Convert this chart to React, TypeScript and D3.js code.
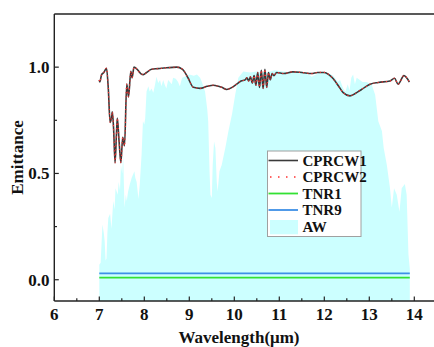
import React from "react";
import * as d3 from "d3";

// AW (atmospheric window) transmittance
const awWavelength = [7.0, 7.03, 7.07, 7.1, 7.12, 7.14, 7.16, 7.18, 7.2, 7.24, 7.27, 7.31, 7.34, 7.36, 7.41, 7.43, 7.46, 7.48, 7.51, 7.53, 7.56, 7.59, 7.61, 7.64, 7.68, 7.72, 7.76, 7.78, 7.8, 7.83, 7.87, 7.9, 7.94, 7.97, 8.0, 8.02, 8.05, 8.09, 8.12, 8.16, 8.2, 8.24, 8.27, 8.31, 8.35, 8.38, 8.42, 8.45, 8.49, 8.53, 8.57, 8.61, 8.64, 8.7, 8.75, 8.79, 8.84, 8.9, 9.0, 9.1, 9.17, 9.24, 9.28, 9.35, 9.4, 9.42, 9.45, 9.47, 9.5, 9.52, 9.55, 9.58, 9.61, 9.63, 9.67, 9.72, 9.8, 9.87, 9.95, 10.02, 10.09, 10.2, 10.35, 10.5, 10.7, 10.9, 11.1, 11.3, 11.5, 11.65, 11.72, 11.9, 12.1, 12.2, 12.3, 12.35, 12.42, 12.47, 12.52, 12.56, 12.6, 12.64, 12.68, 12.72, 12.79, 12.85, 12.94, 13.05, 13.13, 13.2, 13.28, 13.32, 13.39, 13.46, 13.5, 13.55, 13.61, 13.67, 13.72, 13.79, 13.83, 13.87, 13.9];
const awValue = [0.07, 0.08, 0.26, 0.22, 0.18, 0.09, 0.1, 0.22, 0.29, 0.31, 0.24, 0.37, 0.33, 0.43, 0.4, 0.46, 0.42, 0.54, 0.5, 0.59, 0.34, 0.4, 0.37, 0.415, 0.45, 0.48, 0.5, 0.51, 0.48, 0.46, 0.38, 0.45, 0.59, 0.745, 0.73, 0.76, 0.885, 0.91, 0.885, 0.9, 0.88, 0.92, 0.955, 0.925, 0.94, 0.91, 0.94, 0.92, 0.9, 0.94, 0.93, 0.92, 0.95, 0.945, 0.93, 0.91, 0.95, 0.955, 0.965, 0.96, 0.965, 0.95, 0.93, 0.885, 0.8, 0.745, 0.51, 0.4, 0.384, 0.54, 0.65, 0.62, 0.46, 0.415, 0.51, 0.54, 0.62, 0.7, 0.78, 0.87, 0.95, 0.98, 0.975, 0.98, 0.975, 0.985, 0.98, 0.975, 0.98, 0.965, 0.955, 0.975, 0.97, 0.96, 0.93, 0.94, 0.9, 0.885, 0.92, 0.89, 0.95, 0.965, 0.92, 0.95, 0.94, 0.93, 0.93, 0.92, 0.87, 0.745, 0.7, 0.62, 0.54, 0.43, 0.34, 0.43, 0.4, 0.32, 0.43, 0.45, 0.4, 0.12, 0.05];

// CPRCW1 / CPRCW2 emittance (they overlap)
const cprcwWavelength = [7.0, 7.01, 7.05, 7.1, 7.16, 7.2, 7.24, 7.27, 7.29, 7.32, 7.35, 7.38, 7.4, 7.44, 7.48, 7.52, 7.56, 7.61, 7.65, 7.7, 7.73, 7.77, 7.84, 7.92, 7.98, 8.05, 8.16, 8.3, 8.5, 8.72, 8.85, 8.97, 9.09, 9.24, 9.4, 9.53, 9.65, 9.72, 9.83, 9.95, 10.05, 10.15, 10.24, 10.28, 10.32, 10.36, 10.4, 10.44, 10.48, 10.52, 10.56, 10.6, 10.64, 10.68, 10.72, 10.76, 10.8, 10.84, 10.88, 10.94, 11.1, 11.3, 11.5, 11.72, 11.85, 12.0, 12.1, 12.2, 12.32, 12.42, 12.57, 12.68, 12.79, 12.9, 13.02, 13.2, 13.46, 13.56, 13.64, 13.77, 13.89];
const cprcw1Value = [0.94, 0.93, 0.964, 0.975, 0.995, 0.9, 0.74, 0.76, 0.79, 0.7, 0.55, 0.68, 0.76, 0.65, 0.55, 0.67, 0.63, 0.92, 0.86, 0.98, 0.95, 1.0, 0.99, 0.97, 0.965, 0.975, 0.99, 0.993, 0.997, 1.0, 0.99, 0.95, 0.905, 0.9, 0.91, 0.915, 0.91, 0.905, 0.895, 0.905, 0.92, 0.935, 0.94, 0.95, 0.935, 0.955, 0.925, 0.96, 0.915, 0.975, 0.905, 0.985, 0.9, 0.99, 0.905, 0.975, 0.94, 0.97, 0.96, 0.975, 0.97, 0.978, 0.975, 0.97, 0.975, 0.975, 0.965, 0.945, 0.91, 0.88, 0.865, 0.875, 0.89, 0.905, 0.92, 0.928, 0.935, 0.948, 0.92, 0.96, 0.93];
const cprcw2Value = cprcw1Value.slice();

// TNR1 / TNR9
const tnrWavelength = [7.0, 13.9];
const tnr1Value = [0.01, 0.01];
const tnr9Value = [0.03, 0.03];

const xMajorTicks = [6, 7, 8, 9, 10, 11, 12, 13, 14];
const xMinorTicks = [6.5, 7.5, 8.5, 9.5, 10.5, 11.5, 12.5, 13.5];
const yMajorTicks = [0, 0.5, 1.0];
const yMinorTicks = [0.25, 0.75];

const legendLabels = ["CPRCW1", "CPRCW2", "TNR1", "TNR9", "AW"];

const FONT = "'Liberation Serif', 'Times New Roman', serif";

export default function App() {
  const W = 434;
  const H = 347;
  const x = d3.scaleLinear().domain([6, 14.5]).range([54.3, 54.3 + 8.5 * 45]);
  const y = d3.scaleLinear().domain([-0.1, 1.25]).range([301, 14]);

  const awData = awWavelength.map((w, i) => [w, awValue[i]] as [number, number]);
  const area = d3
    .area<[number, number]>()
    .x((d) => x(d[0]))
    .y0(y(-0.1))
    .y1((d) => y(d[1]));

  const line = d3
    .line<[number, number]>()
    .x((d) => x(d[0]))
    .y((d) => y(d[1]))
    .curve(d3.curveMonotoneX);
  const straight = d3
    .line<[number, number]>()
    .x((d) => x(d[0]))
    .y((d) => y(d[1]));

  const c1 = cprcwWavelength.map((w, i) => [w, cprcw1Value[i]] as [number, number]);
  const c2 = cprcwWavelength.map((w, i) => [w, cprcw2Value[i]] as [number, number]);
  const t1 = tnrWavelength.map((w, i) => [w, tnr1Value[i]] as [number, number]);
  const t9 = tnrWavelength.map((w, i) => [w, tnr9Value[i]] as [number, number]);

  const left = x(6);
  const bottom = y(-0.1);
  const top = y(1.25);

  const legendX = 267.5;
  const legendY = 151;
  const rowY = [160.5, 177, 193.5, 210, 227];

  return (
    <svg width={W} height={H} style={{ position: "absolute", left: 0, top: 0, background: "#fff" }}>
      <rect x={0} y={0} width={W} height={H} fill="#fff" />
      <path d={area(awData) || ""} fill="#ccffff" stroke="none" />
      <path d={straight(t9) || ""} fill="none" stroke="#3d8fe6" strokeWidth={1.8} />
      <path d={straight(t1) || ""} fill="none" stroke="#33e133" strokeWidth={1.8} />
      <path d={line(c1) || ""} fill="none" stroke="#3a3a3a" strokeWidth={1.6} />
      <path d={line(c2) || ""} fill="none" stroke="#ff3030" strokeWidth={1.2} strokeDasharray="1.2 3" />

      {/* axes */}
      <line x1={left} x2={W} y1={top} y2={top} stroke="#222" strokeWidth={1.4} />
      <line x1={left} x2={left} y1={top} y2={bottom} stroke="#222" strokeWidth={1.4} />
      <line x1={left} x2={W} y1={bottom} y2={bottom} stroke="#222" strokeWidth={1.4} />
      {xMajorTicks.map((t) => (
        <g key={"xm" + t}>
          <line x1={x(t)} x2={x(t)} y1={bottom} y2={bottom - 4.5} stroke="#222" strokeWidth={1.2} />
          <text x={x(t)} y={320} textAnchor="middle" fontFamily={FONT} fontWeight="bold" fontSize={17} fill="#111">
            {t}
          </text>
        </g>
      ))}
      {xMinorTicks.map((t) => (
        <line key={"xn" + t} x1={x(t)} x2={x(t)} y1={bottom} y2={bottom - 2.7} stroke="#222" strokeWidth={1.2} />
      ))}
      {yMajorTicks.map((t) => (
        <g key={"ym" + t}>
          <line x1={left} x2={left + 4.5} y1={y(t)} y2={y(t)} stroke="#222" strokeWidth={1.2} />
          <text x={49.5} y={y(t) + 6} textAnchor="end" fontFamily={FONT} fontWeight="bold" fontSize={17} fill="#111">
            {t.toFixed(1)}
          </text>
        </g>
      ))}
      {yMinorTicks.map((t) => (
        <line key={"yn" + t} x1={left} x2={left + 2.7} y1={y(t)} y2={y(t)} stroke="#222" strokeWidth={1.2} />
      ))}
      <text
        transform="translate(22.5,157.5) rotate(-90)"
        textAnchor="middle"
        fontFamily={FONT}
        fontWeight="bold"
        fontSize={17}
        fill="#111"
      >
        Emittance
      </text>
      <text x={239} y={342.5} textAnchor="middle" fontFamily={FONT} fontWeight="bold" fontSize={17} fill="#111">
        Wavelength(μm)
      </text>

      {/* legend */}
      <rect x={legendX} y={legendY} width={93.5} height={85.5} fill="#fff" stroke="#a0a0a0" strokeWidth={1} />
      <line x1={268.5} x2={298} y1={rowY[0]} y2={rowY[0]} stroke="#3a3a3a" strokeWidth={1.6} />
      <line x1={270} x2={298} y1={rowY[1]} y2={rowY[1]} stroke="#ff3030" strokeWidth={1.5} strokeDasharray="1.5 6.5" />
      <line x1={268.5} x2={298} y1={rowY[2]} y2={rowY[2]} stroke="#33e133" strokeWidth={1.8} />
      <line x1={268.5} x2={298} y1={rowY[3]} y2={rowY[3]} stroke="#3d8fe6" strokeWidth={1.8} />
      <rect x={270} y={220} width={28} height={14.3} fill="#ccffff" />
      {legendLabels.map((l, i) => (
        <text key={l} x={302.5} y={rowY[i] + 5.3} fontFamily={FONT} fontWeight="bold" fontSize={15} fill="#111">
          {l}
        </text>
      ))}
    </svg>
  );
}
